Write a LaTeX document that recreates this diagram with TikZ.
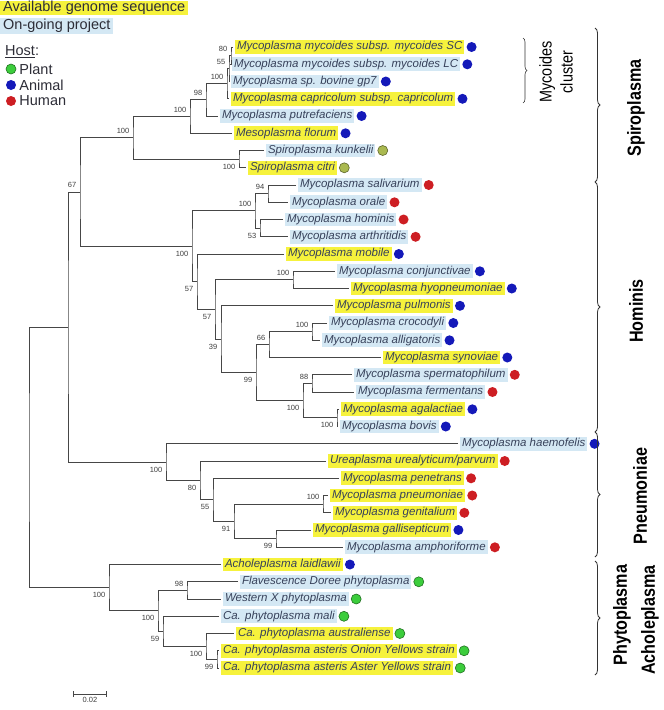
\documentclass[tikz,border=0pt]{standalone}
\usepackage{fontspec}
\setmainfont{Liberation Sans}
\setsansfont{Liberation Sans}
\newfontfamily\narrowfont[FakeStretch=0.85]{Liberation Sans}
\usepackage{tikz}
\usetikzlibrary{positioning, arrows.meta, decorations.pathreplacing, calc}

\definecolor{availyellow}{RGB}{246,242,60}
\definecolor{ongoingblue}{RGB}{212,232,244}
\definecolor{leaftext}{RGB}{55,65,90}
\definecolor{legendtext}{RGB}{45,45,55}
\definecolor{bstext}{RGB}{60,60,60}
\definecolor{branchgray}{RGB}{70,70,70}
\definecolor{hostplant}{RGB}{60,205,60}
\definecolor{hostolive}{RGB}{170,185,80}
\definecolor{hostanimal}{RGB}{20,25,185}
\definecolor{hosthuman}{RGB}{205,30,35}

\begin{document}
\begin{tikzpicture}[x=1pt, y=-1pt,
            leaf/.style={anchor=west, font=\sffamily\itshape\fontsize{11.5}{13}\selectfont, text=leaftext, inner xsep=2pt, inner ysep=1.5pt, outer sep=2pt},
            avail/.style={leaf, fill=availyellow},
            ongoing/.style={leaf, fill=ongoingblue},
            legend/.style={anchor=west, font=\sffamily\fontsize{14.5}{16}\selectfont, text=legendtext, inner xsep=3pt, inner ysep=1.5pt},
            hostdot/.style={circle, inner sep=0pt, minimum size=10pt},
            plant/.style={hostdot, fill=hostplant, draw=hostplant!55!black, line width=0.6pt},
            plantalt/.style={hostdot, fill=hostolive, draw=hostolive!55!black, line width=0.6pt},
            animal/.style={hostdot, fill=hostanimal},
            human/.style={hostdot, fill=hosthuman},
            branch/.style={draw=branchgray, line width=1pt},
            bs/.style={font=\sffamily\fontsize{7.5}{8}\selectfont, text=bstext, inner sep=0.5pt},
            bsup/.style={bs, anchor=south east, xshift=-3pt, yshift=3.5pt},
            bsdown/.style={bs, anchor=north east, xshift=-3pt, yshift=-4pt},
            groupbrace/.style={decorate, decoration={brace, amplitude=5pt}, draw=black!80, line width=0.8pt},
            grouplabel/.style={font=\narrowfont\bfseries\fontsize{19}{21}\selectfont, rotate=90}
        ]

        % Rahmen
        \useasboundingbox (0,0) rectangle (664,710);

        % Legende
        \node[legend, fill=availyellow, inner ysep=0.5pt] (keyavail) at (0,8) {Available genome sequence};
        \node[legend, fill=ongoingblue] (keyongoing) at (0,26) {On-going project};
        \node[legend] (keyhost) at (2,52) {\underline{Host}:};
        \node[plant] (keyplant) at (11,69) {};
        \node[legend, right=0pt of keyplant] (keyplanttxt) {Plant};
        \node[animal] (keyanimal) at (11,85) {};
        \node[legend, right=0pt of keyanimal] (keyanimaltxt) {Animal};
        \node[human] (keyhuman) at (11,101) {};
        \node[legend, right=0pt of keyhuman] (keyhumantxt) {Human};

        % Blaetter
        \node[avail, label={[animal]right:{}}] (sc) at (233,47) {Mycoplasma mycoides subsp. mycoides SC};
        \node[ongoing, label={[animal]right:{}}] (lc) at (230,64.3) {Mycoplasma mycoides subsp. mycoides LC};
        \node[ongoing, label={[animal]right:{}}] (gp7) at (229,81.5) {Mycoplasma sp. bovine gp7};
        \node[avail, label={[animal]right:{}}] (capri) at (229,98.8) {Mycoplasma capricolum subsp. capricolum};
        \node[ongoing, label={[animal]right:{}}] (putre) at (218,116) {Mycoplasma putrefaciens};
        \node[avail, label={[animal]right:{}}] (floru) at (232,133.3) {Mesoplasma florum};
        \node[ongoing, label={[plantalt]right:{}}] (kunk) at (264,150.5) {Spiroplasma kunkelii};
        \node[avail, label={[plantalt]right:{}}] (citri) at (246,167.8) {Spiroplasma citri};
        \node[ongoing, label={[human]right:{}}] (saliv) at (296,185) {Mycoplasma salivarium};
        \node[ongoing, label={[human]right:{}}] (orale) at (288,202.3) {Mycoplasma orale};
        \node[ongoing, label={[human]right:{}}] (homin) at (283,219.5) {Mycoplasma hominis};
        \node[ongoing, label={[human]right:{}}] (arthr) at (288,236.8) {Mycoplasma arthritidis};
        \node[avail, label={[animal]right:{}}] (mobil) at (284,254) {Mycoplasma mobile};
        \node[ongoing, label={[animal]right:{}}] (conj) at (335,271.3) {Mycoplasma conjunctivae};
        \node[avail, label={[animal]right:{}}] (hyop) at (349,288.5) {Mycoplasma hyopneumoniae};
        \node[avail, label={[animal]right:{}}] (pulm) at (333,305.8) {Mycoplasma pulmonis};
        \node[ongoing, label={[animal]right:{}}] (croc) at (327,323) {Mycoplasma crocodyli};
        \node[ongoing, label={[animal]right:{}}] (allig) at (320,340.3) {Mycoplasma alligatoris};
        \node[avail, label={[animal]right:{}}] (synov) at (381,357.5) {Mycoplasma synoviae};
        \node[ongoing, label={[human]right:{}}] (sperm) at (352,374.8) {Mycoplasma spermatophilum};
        \node[ongoing, label={[human]right:{}}] (ferm) at (354,392) {Mycoplasma fermentans};
        \node[avail, label={[animal]right:{}}] (agal) at (339,409.3) {Mycoplasma agalactiae};
        \node[ongoing, label={[animal]right:{}}] (bovis) at (338,426.5) {Mycoplasma bovis};
        \node[ongoing, label={[animal]right:{}}] (haemo) at (458,443.8) {Mycoplasma haemofelis};
        \node[avail, label={[human]right:{}}] (ureap) at (326,461) {Ureaplasma urealyticum/parvum};
        \node[avail, label={[human]right:{}}] (penet) at (339,478.3) {Mycoplasma penetrans};
        \node[avail, label={[human]right:{}}] (pneum) at (328,495.5) {Mycoplasma pneumoniae};
        \node[avail, label={[human]right:{}}] (genit) at (331,512.8) {Mycoplasma genitalium};
        \node[avail, label={[animal]right:{}}] (galli) at (311,530) {Mycoplasma gallisepticum};
        \node[ongoing, label={[human]right:{}}] (amph) at (343,547.3) {Mycoplasma amphoriforme};
        \node[avail, label={[animal]right:{}}] (laid) at (221,564.5) {Acholeplasma laidlawii};
        \node[ongoing, label={[plant]right:{}}] (flav) at (238,581.8) {Flavescence Doree phytoplasma};
        \node[ongoing, label={[plant]right:{}}] (westx) at (221,599) {Western X phytoplasma};
        \node[ongoing, label={[plant]right:{}}] (mali) at (219,616.3) {Ca. phytoplasma mali};
        \node[avail, label={[plant]right:{}}] (austr) at (234,633.5) {Ca. phytoplasma australiense};
        \node[avail, label={[plant]right:{}}] (onion) at (219,650.8) {Ca. phytoplasma asteris Onion Yellows strain};
        \node[avail, label={[plant]right:{}}] (aster) at (219,668) {Ca. phytoplasma asteris Aster Yellows strain};

        % Innere Knoten
        \coordinate (q1) at (231,55.6);
        \coordinate (q2) at (229,68.6);
        \coordinate (q3) at (227,83.7);
        \coordinate (q4) at (206,99.8);
        \coordinate (q5) at (190,116.5);
        \coordinate (k) at (239,159.1);
        \coordinate (s) at (133,137.8);
        \coordinate (h2) at (268,193.6);
        \coordinate (h3) at (260,228.1);
        \coordinate (h1) at (255,210.9);
        \coordinate (h6) at (293,279.9);
        \coordinate (h10) at (312,331.6);
        \coordinate (h9) at (269,344.6);
        \coordinate (h12) at (312,383.4);
        \coordinate (h13) at (337,417.9);
        \coordinate (h11) at (303,400.6);
        \coordinate (h8) at (256,372.6);
        \coordinate (h7) at (221,339.2);
        \coordinate (h5) at (215,309.6);
        \coordinate (h4) at (197,281.8);
        \coordinate (h) at (192,246.4);
        \coordinate (b) at (80,192.1);
        \coordinate (p4) at (323,504.1);
        \coordinate (p5) at (276,538.6);
        \coordinate (p3) at (234,521.4);
        \coordinate (p2) at (213,499.8);
        \coordinate (p1) at (200,480.4);
        \coordinate (p0) at (166,462.1);
        \coordinate (a) at (68,327.1);
        \coordinate (c3) at (187,590.4);
        \coordinate (c6) at (217,659.4);
        \coordinate (c5) at (206,646.5);
        \coordinate (c4) at (163,631.4);
        \coordinate (c1) at (158,610.9);
        \coordinate (c0) at (109,587.7);
        \coordinate (r) at (29,457.4);

        % Kanten
        \draw[branch] (sc.west) -| (q1) |- (lc.west);
        \draw[branch] (q1) -| (q2) |- (gp7.west);
        \draw[branch] (q2) -| (q3) |- (capri.west);
        \draw[branch] (q3) -| (q4) |- (putre.west);
        \draw[branch] (q4) -| (q5) |- (floru.west);
        \draw[branch] (kunk.west) -| (k) |- (citri.west);
        \draw[branch] (q5) -| (s) |- (k);
        \draw[branch] (saliv.west) -| (h2) |- (orale.west);
        \draw[branch] (homin.west) -| (h3) |- (arthr.west);
        \draw[branch] (h2) -| (h1) |- (h3);
        \draw[branch] (conj.west) -| (h6) |- (hyop.west);
        \draw[branch] (croc.west) -| (h10) |- (allig.west);
        \draw[branch] (h10) -| (h9) |- (synov.west);
        \draw[branch] (sperm.west) -| (h12) |- (ferm.west);
        \draw[branch] (agal.west) -| (h13) |- (bovis.west);
        \draw[branch] (h12) -| (h11) |- (h13);
        \draw[branch] (h9) -| (h8) |- (h11);
        \draw[branch] (pulm.west) -| (h7) |- (h8);
        \draw[branch] (h6) -| (h5) |- (h7);
        \draw[branch] (mobil.west) -| (h4) |- (h5);
        \draw[branch] (h1) -| (h) |- (h4);
        \draw[branch] (s) -| (b) |- (h);
        \draw[branch] (pneum.west) -| (p4) |- (genit.west);
        \draw[branch] (galli.west) -| (p5) |- (amph.west);
        \draw[branch] (p4) -| (p3) |- (p5);
        \draw[branch] (penet.west) -| (p2) |- (p3);
        \draw[branch] (ureap.west) -| (p1) |- (p2);
        \draw[branch] (haemo.west) -| (p0) |- (p1);
        \draw[branch] (b) -| (a) |- (p0);
        \draw[branch] (flav.west) -| (c3) |- (westx.west);
        \draw[branch] (onion.west) -| (c6) |- (aster.west);
        \draw[branch] (austr.west) -| (c5) |- (c6);
        \draw[branch] (mali.west) -| (c4) |- (c5);
        \draw[branch] (c3) -| (c1) |- (c4);
        \draw[branch] (laid.west) -| (c0) |- (c1);
        \draw[branch] (a) -| (r) |- (c0);

        % Bootstrap-Werte
        \node[bsup] (bq1) at (q1) {80};
        \node[bsup] (bq2) at (q2) {55};
        \node[bsup] (bq3) at (q3) {100};
        \node[bsup] (bq4) at (q4) {98};
        \node[bsup] (bq5) at (q5) {100};
        \node[bsup] (bs) at (s) {100};
        \node[bsdown] (bk) at (k) {100};
        \node[bsup] (bb) at (b) {67};
        \node[bsdown] (bh) at (h) {100};
        \node[bsup] (bh1) at (h1) {100};
        \node[bsup] (bh2) at (h2) {94};
        \node[bsdown] (bh3) at (h3) {53};
        \node[bsdown] (bh4) at (h4) {57};
        \node[bsdown] (bh5) at (h5) {57};
        \node[bsup] (bh6) at (h6) {100};
        \node[bsdown] (bh7) at (h7) {39};
        \node[bsdown] (bh8) at (h8) {99};
        \node[bsup] (bh9) at (h9) {66};
        \node[bsup] (bh10) at (h10) {100};
        \node[bsdown] (bh11) at (h11) {100};
        \node[bsup] (bh12) at (h12) {88};
        \node[bsdown] (bh13) at (h13) {100};
        \node[bsdown] (bp0) at (p0) {100};
        \node[bsdown] (bp1) at (p1) {80};
        \node[bsdown] (bp2) at (p2) {55};
        \node[bsdown] (bp3) at (p3) {91};
        \node[bsup] (bp4) at (p4) {100};
        \node[bsdown] (bp5) at (p5) {99};
        \node[bsdown] (bc0) at (c0) {100};
        \node[bsdown] (bc1) at (c1) {100};
        \node[bsup] (bc3) at (c3) {98};
        \node[bsdown] (bc4) at (c4) {59};
        \node[bsdown] (bc5) at (c5) {100};
        \node[bsdown] (bc6) at (c6) {99};

        % Massstab
        \coordinate (scl) at (73,694);
        \coordinate (scr) at (107,694);
        \draw[branch, {Bar[width=6pt]}-{Bar[width=6pt]}] (scl) -- (scr);
        \node[bs, below=3pt] (scalelbl) at ($(scl)!0.5!(scr)$) {0.02};

        % Gruppen
        \coordinate (mycT) at (523,38);
        \coordinate (mycB) at (523,103);
        \coordinate (spiroT) at (595,28);
        \coordinate (spiroB) at (595,182);
        \coordinate (homB) at (595,432);
        \coordinate (pneuB) at (595,557);
        \coordinate (phytoT) at (595,561);
        \coordinate (phytoB) at (595,675);
        \draw[groupbrace, decoration={amplitude=4pt}, line width=0.6pt] (mycT) -- (mycB);
        \draw[groupbrace] (spiroT) -- (spiroB);
        \draw[groupbrace] (spiroB) -- (homB);
        \draw[groupbrace] (homB) -- (pneuB);
        \draw[groupbrace] (phytoT) -- (phytoB);
        \node[grouplabel, font=\narrowfont\fontsize{17}{21}\selectfont, align=center] (myclabel) at (556,72) {Mycoides\\cluster};
        \node[grouplabel] (spirolabel) at (636,108) {Spiroplasma};
        \node[grouplabel] (homlabel) at (636,311) {Hominis};
        \node[grouplabel] (pneulabel) at (640,496) {Pneumoniae};
        \node[grouplabel] (phytolabel) at (622,615) {Phytoplasma};
        \node[grouplabel] (acholabel) at (650,620) {Acholeplasma};

    \end{tikzpicture}
\end{document}
